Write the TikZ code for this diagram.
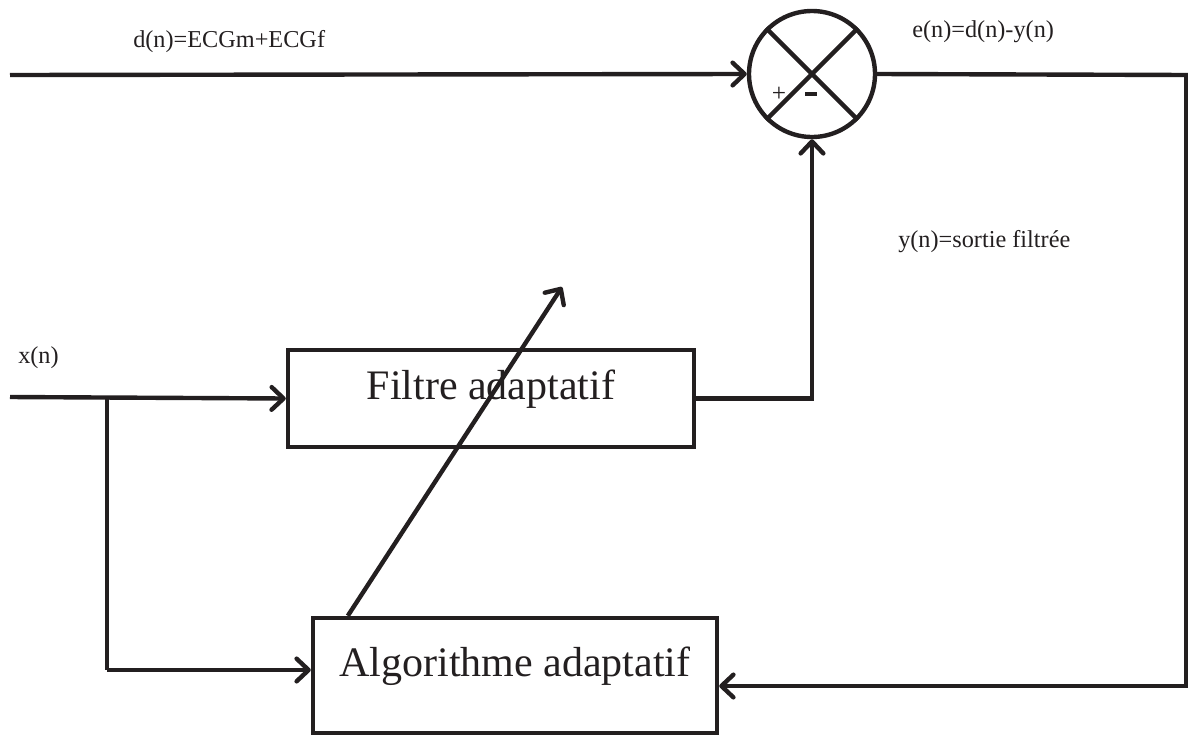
\documentclass[tikz,border=0pt]{standalone}
\usepackage{fontspec}
\setmainfont{Liberation Serif}
\usetikzlibrary{arrows.meta}
\definecolor{ink}{HTML}{231F20}
\begin{document}
\begin{tikzpicture}[x=0.75pt,y=-0.75pt,
  wire/.style={draw=ink,line width=3.3pt},
  arr/.style={wire,-{Straight Barb[length=9pt,width=17pt,line width=3.3pt,round]}},
  blk/.style={draw=ink,line width=3.3pt,rectangle,inner sep=0pt,font=\fontsize{31.5}{36}\selectfont,text=ink,text height=12pt,text depth=10pt},
  lbl/.style={font=\fontsize{18.2}{22}\selectfont,text=ink,anchor=base west,inner sep=0pt},
  sumnode/.style={draw=ink,line width=3.3pt,circle,minimum size=94.5pt,inner sep=0pt}]
\useasboundingbox (0,0) rectangle (1188,736);
% blocks
\node[blk,minimum width=304.5pt,minimum height=72.75pt] (f) at (491,398.5) {Filtre adaptatif};
\node[blk,minimum width=303pt,minimum height=86.25pt] (a) at (515,675.5) {Algorithme adaptatif};
\node[sumnode] (s) at (812,74) {};
\draw[wire] (s.45) -- (s.225);
\draw[wire] (s.135) -- (s.315);
\node[font=\fontsize{19}{22}\selectfont,text=ink,inner sep=0pt] (plus) at (779,94) {+};
\node[fill=ink,minimum width=9pt,minimum height=3pt,inner sep=0pt] (minus) at (811,94) {};
% coordinates
\coordinate (din) at (10,75);
\coordinate (xin) at (10,397);
\coordinate (j) at (107,397);
\coordinate (jb) at (107,670);
\coordinate (eout) at (1188,75);
\coordinate (rc) at (1186,75);
\coordinate (rb) at (1188,686);
\coordinate (dstart) at ([xshift=27.75pt]a.north west);
\coordinate (dtip) at (562,287);
% connectors
\draw[arr] (din) -- (s.west);
\draw[wire] (s.east) -- (eout);
\draw[wire] (rc) -- (rc |- rb);
\draw[arr] (rb) -- (a.east |- rb);
\draw[arr] (xin) -- (f.west);
\draw[wire] (j) -- (jb);
\draw[arr] (jb) -- (a.west |- jb);
\draw[arr] (f.east) -| (s.south);
\draw[arr] (dstart) -- (dtip);
% labels
\node[lbl] (ld) at (133,47) {d(n)=ECGm+ECGf};
\node[lbl] (le) at (912,37) {e(n)=d(n)-y(n)};
\node[lbl] (ly) at (898,247) {y(n)=sortie filtrée};
\node[lbl] (lx) at (18,363) {x(n)};
\end{tikzpicture}
\end{document}
